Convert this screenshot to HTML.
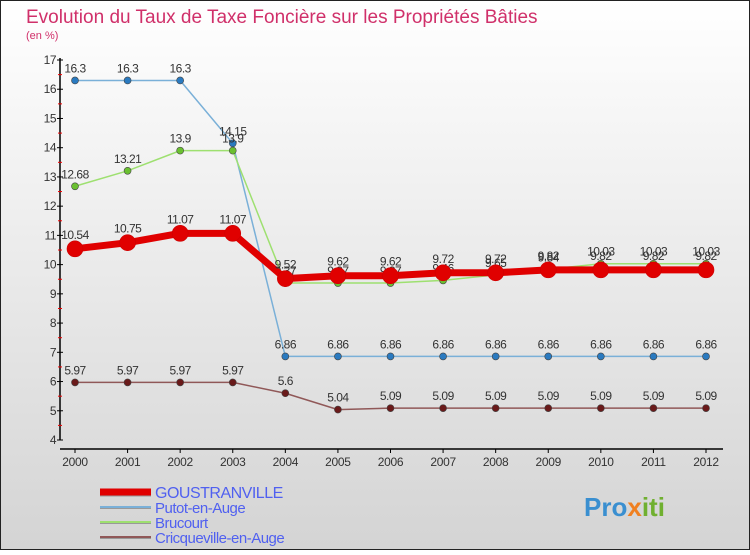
<!DOCTYPE html>
<html><head><meta charset="utf-8"><style>
body{margin:0;width:750px;height:550px;overflow:hidden;font-family:"Liberation Sans",sans-serif}
</style></head><body>
<svg id="c" width="750" height="550" xmlns="http://www.w3.org/2000/svg">
<defs><linearGradient id="bg" x1="0" y1="0" x2="0" y2="1"><stop offset="0" stop-color="#ffffff"/><stop offset="1" stop-color="#d4d4d4"/></linearGradient></defs>
<rect x="0.5" y="0.5" width="749" height="549" fill="url(#bg)" stroke="#222"/>
<text x="26" y="23" font-size="19" fill="#d0306a">Evolution du Taux de Taxe Foncière sur les Propriétés Bâties</text>
<text x="26" y="39" font-size="11" fill="#d0306a">(en %)</text>
<g id="axes"></g><g id="series"></g><g id="legend"></g>
<text x="584" y="516" font-size="26" font-weight="bold" fill="#3a8fd0">Pro<tspan fill="#f08020">x</tspan><tspan fill="#70b030">iti</tspan></text>
</svg>
<script>
const years=[2000,2001,2002,2003,2004,2005,2006,2007,2008,2009,2010,2011,2012];
const yTicks=[4,5,6,7,8,9,10,11,12,13,14,15,16,17];
const seriesNames=["GOUSTRANVILLE","Putot-en-Auge","Brucourt","Cricqueville-en-Auge"];
const goustranville=[10.54,10.75,11.07,11.07,9.52,9.62,9.62,9.72,9.72,9.82,9.82,9.82,9.82];
const putot=[16.3,16.3,16.3,14.15,6.86,6.86,6.86,6.86,6.86,6.86,6.86,6.86,6.86];
const brucourt=[12.68,13.21,13.9,13.9,9.37,9.37,9.37,9.46,9.65,9.84,10.03,10.03,10.03];
const cricqueville=[5.97,5.97,5.97,5.97,5.6,5.04,5.09,5.09,5.09,5.09,5.09,5.09,5.09];
const NS="http://www.w3.org/2000/svg";
const xs=i=>75+i*(706-75)/12;
const ys=v=>440-(v-4)*(380/13);
function mk(p,t,a){const e=document.createElementNS(NS,t);for(const k in a)e.setAttribute(k,a[k]);p.appendChild(e);return e;}
const ax=document.getElementById('axes');
let e=mk(ax,'line',{x1:60,y1:58,x2:60,y2:440,stroke:'#000','stroke-width':1.5});


e=mk(ax,'line',{x1:60,y1:449,x2:723,y2:449,stroke:'#000','stroke-width':1.5});


yTicks.forEach(v=>{const y=ys(v);mk(ax,'line',{x1:57,y1:y,x2:63,y2:y,stroke:'#000'});
 if(v<17)mk(ax,'line',{x1:58,y1:y-14.6,x2:62,y2:y-14.6,stroke:'#e00'});
 const t=mk(ax,'text',{x:56,y:y+4,'font-size':12,'text-anchor':'end',fill:'#333','letter-spacing':'-0.5'});t.textContent=v;
 
 });
years.forEach((yr,i)=>{const x=xs(i);mk(ax,'line',{x1:x,y1:449,x2:x,y2:453,stroke:'#000'});
 const t=mk(ax,'text',{x:x,y:466,'font-size':12,'text-anchor':'middle',fill:'#333','letter-spacing':'-0.3'});t.textContent=yr;
 
 });
const sg=document.getElementById('series');
const defs=[[putot,'#7ab0d8','#2a7ac0',1.5,3.5,'series-putot'],[brucourt,'#9ee070','#6ac030',1.5,3.5,'series-brucourt'],[cricqueville,'#905858','#6a1a1a',1.5,3.5,'series-cricqueville'],[goustranville,'#e00000','#e00000',7,8,'series-goustranville']];
defs.forEach(([d,lc,pc,w,r,n])=>{const g=mk(sg,'g',{});
 
 
 mk(g,'polyline',{points:d.map((v,i)=>xs(i)+','+ys(v)).join(' '),fill:'none',stroke:lc,'stroke-width':w,'stroke-linejoin':'round'});
 d.forEach((v,i)=>{const c=mk(g,'circle',{cx:xs(i),cy:ys(v),r:r,fill:pc,stroke:w>3?'#c00':'#444','stroke-width':0.6});
  
  
  const t=mk(g,'text',{x:xs(i),y:ys(v)-(w>3?10:8),'font-size':12,'text-anchor':'middle',fill:'#333','letter-spacing':'-0.5'});t.textContent=v;
  
  });});
const lg=document.getElementById('legend');
const lcols=['#e00000','#7ab0d8','#9ee070','#905858'],lw=[7,2,2,2];
seriesNames.forEach((n,i)=>{const y=492+i*15;const g=mk(lg,'g',{});
 
 
 mk(g,'line',{x1:100,y1:y+1,x2:151,y2:y+1,stroke:'#999','stroke-width':lw[i]});
 mk(g,'line',{x1:100,y1:y,x2:151,y2:y,stroke:lcols[i],'stroke-width':lw[i]});
 const t=mk(g,'text',{x:155,y:y+6,'font-size':i==0?16:15,fill:'#5060f0','letter-spacing':'-0.5'});t.textContent=n;});
</script>
</body></html>
